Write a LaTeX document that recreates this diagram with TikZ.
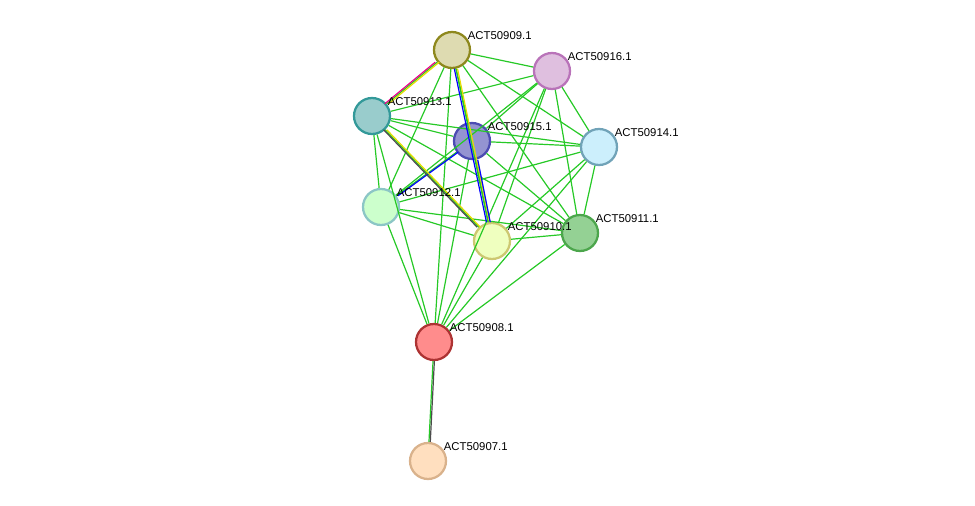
\documentclass[tikz,border=0pt]{standalone}
\usepackage{fontspec}
\setmainfont{Liberation Sans}
\begin{document}
\begin{tikzpicture}[x=0.75pt,y=-0.75pt,every path/.style={line width=0.9pt},
  prot/.style={draw,circle,line width=1.7pt,minimum size=27pt,inner sep=0pt},
  lbl/.style={anchor=south west,font=\fontsize{8.5pt}{9pt}\selectfont,inner sep=1pt},
  link/.style={draw=green!70!black!80!green}]
\useasboundingbox (0,0) rectangle (975,506);

\node (p909) [prot,fill=yellow!40!gray!50!white,draw=olive!80!gray] at (452,50) {};
\node (p916) [prot,fill=violet!25,draw=violet!55] at (552,71) {};
\node (p913) [prot,fill=teal!40,draw=teal!80] at (372,116) {};
\node (p915) [prot,fill=blue!40!gray!60!white,draw=blue!40!gray] at (472,141) {};
\node (p914) [prot,fill=cyan!20,draw=cyan!40!gray] at (599,147) {};
\node (p912) [prot,fill=green!20,draw=teal!45] at (381,207) {};
\node (p910) [prot,fill=lime!25,draw=olive!45] at (492,241) {};
\node (p911) [prot,fill=green!40!gray!60!white,draw=green!50!black!70] at (580,233) {};
\node (p908) [prot,fill=red!45,draw=red!60!black!80] at (434,342) {};
\node (p907) [prot,fill=orange!25,draw=brown!60] at (428,461) {};

% green links
\foreach \a/\b in {909/916,909/913,909/915,909/914,909/912,909/910,909/911,909/908,
  916/913,916/915,916/914,916/912,916/910,916/911,916/908,
  913/915,913/914,913/912,913/910,913/911,913/908,
  915/914,915/912,915/910,915/911,915/908,
  914/912,914/910,914/911,914/908,
  912/910,912/911,912/908,910/911,910/908,911/908,908/907}
  \draw[green!75!black!85] (p\a) -- (p\b);
% extra evidence channels
\draw[magenta,transform canvas={shift={(-1.5pt,0)}}] (p909) -- (p913);
\draw[yellow!80!olive,transform canvas={shift={(1.5pt,0)}}] (p909) -- (p913);
\draw[blue,transform canvas={shift={(-1.2pt,0)}}] (p909) -- (p910);
\draw[yellow!80!olive,transform canvas={shift={(1.2pt,0)}}] (p909) -- (p910);
\draw[blue,transform canvas={shift={(1.5pt,0)}}] (p915) -- (p910);
\draw[blue,transform canvas={shift={(1.2pt,0)}}] (p915) -- (p912);
\draw[black!70,transform canvas={shift={(-1.2pt,0)}}] (p913) -- (p910);
\draw[yellow!80!olive,transform canvas={shift={(1.2pt,0)}}] (p913) -- (p910);
\draw[black!70,transform canvas={shift={(1pt,0)}}] (p908) -- (p907);

\foreach \n in {909,916,913,915,914,912,910,911,908,907}
  \node[lbl] at ([shift={(14,-8)}]p\n.center) {ACT50\n.1};
\end{tikzpicture}
\end{document}
